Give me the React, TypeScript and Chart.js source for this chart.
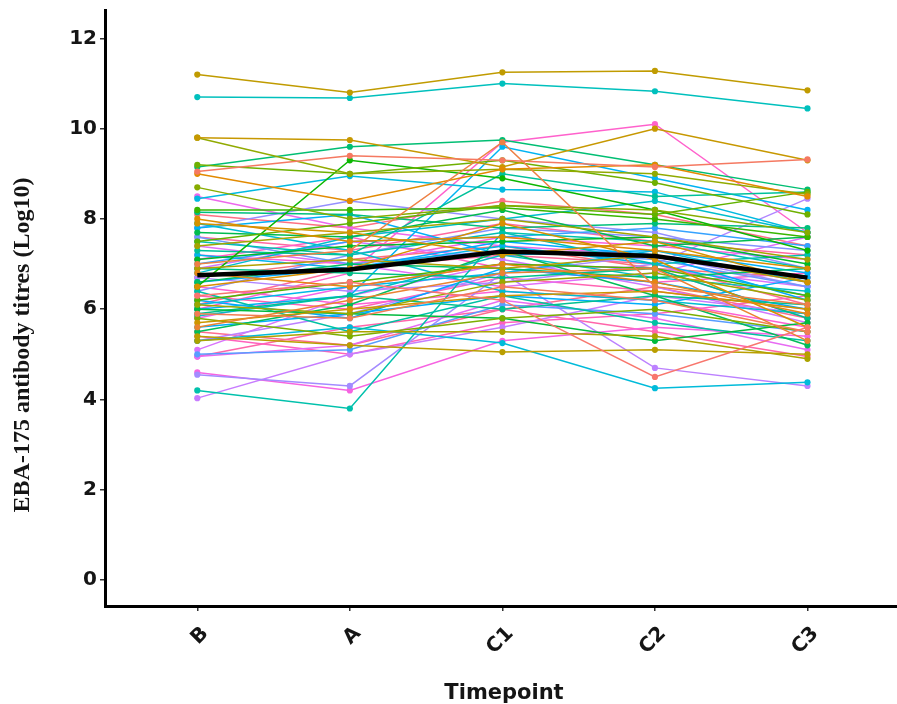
import React, { useEffect, useRef } from "react";
import { Chart, registerables } from "chart.js";

Chart.register(...registerables);

const timepoints = ["B", "A", "C1", "C2", "C3"];
const yTicks = [0, 2, 4, 6, 8, 10, 12];
const yTitle = "EBA-175 antibody titres (Log10)";
const xTitle = "Timepoint";

// one value per subject at each timepoint (log10 titres)
const valuesB = [
  6.3, 9.05, 5.9, 7.0, 5.6, 6.8, 9.0, 8.0, 6.5, 7.9,
  5.7, 9.8, 11.2, 5.4, 6.9, 5.3, 7.4, 6.1, 9.8, 8.7,
  5.8, 9.2, 7.5, 6.2, 8.2, 6.5, 7.1, 6.0, 7.7, 5.5,
  6.6, 9.15, 8.15, 6.9, 5.9, 7.3, 6.4, 4.2, 7.5, 10.7,
  5.85, 6.8, 7.9, 5.3, 8.45, 6.1, 7.2, 6.0, 7.8, 5.6,
  6.6, 6.2, 7.0, 5.0, 7.6, 6.4, 7.8, 4.55, 6.7, 5.3,
  4.03, 6.9, 5.1, 7.4, 4.95, 8.5, 5.8, 4.6, 7.2, 6.5,
  6.0, 7.1, 5.4, 6.3, 4.95, 7.6, 6.1, 5.5, 8.1, 6.7,
];
const valuesA = [
  6.6, 9.4, 5.8, 7.3, 6.2, 6.5, 8.4, 7.5, 6.9, 7.7,
  6.0, 9.75, 10.8, 5.2, 7.1, 5.5, 7.7, 5.9, 9.0, 8.0,
  5.4, 9.0, 7.9, 6.6, 8.2, 9.3, 7.4, 5.9, 7.6, 6.1,
  7.0, 9.6, 8.1, 6.8, 6.3, 7.2, 5.5, 3.8, 7.2, 10.68,
  6.3, 7.6, 7.3, 5.6, 8.95, 6.5, 6.9, 6.3, 8.1, 5.9,
  6.9, 5.8, 7.5, 5.1, 7.0, 7.2, 8.4, 4.3, 6.4, 5.9,
  5.0, 7.5, 6.3, 7.0, 5.2, 7.8, 6.5, 4.2, 7.0, 6.1,
  6.8, 7.6, 5.0, 6.0, 5.6, 7.3, 6.9, 5.2, 7.8, 7.1,
];
const valuesC1 = [
  6.2, 9.3, 6.5, 9.7, 6.8, 7.0, 9.1, 7.6, 7.9, 7.2,
  6.3, 9.15, 11.25, 5.05, 6.9, 5.5, 8.0, 6.6, 9.1, 8.3,
  5.8, 9.3, 8.3, 7.0, 8.25, 8.9, 7.5, 5.8, 8.2, 7.3,
  6.9, 9.75, 7.8, 6.7, 6.0, 9.0, 6.3, 7.7, 7.7, 11.0,
  7.2, 8.0, 6.4, 5.25, 8.65, 6.8, 7.4, 9.6, 7.2, 6.3,
  7.5, 6.9, 7.6, 6.1, 7.3, 7.8, 8.0, 6.8, 6.6, 6.8,
  5.6, 7.1, 7.0, 6.5, 6.2, 7.4, 7.0, 5.3, 7.6, 6.4,
  9.7, 6.9, 5.7, 6.7, 6.0, 7.9, 7.2, 6.0, 8.4, 7.4,
];
const valuesC2 = [
  4.5, 9.15, 6.2, 6.5, 6.9, 6.6, 9.2, 7.3, 7.1, 7.5,
  6.4, 10.0, 11.28, 5.1, 7.2, 5.4, 7.6, 6.8, 9.0, 8.2,
  6.0, 8.8, 8.1, 6.9, 8.0, 8.2, 7.6, 5.3, 7.4, 6.3,
  6.7, 9.2, 7.9, 6.9, 6.3, 8.5, 5.7, 7.5, 7.0, 10.83,
  6.7, 8.4, 6.2, 4.25, 8.6, 7.3, 7.0, 8.9, 7.3, 6.1,
  7.2, 6.6, 7.8, 5.9, 7.1, 7.6, 7.7, 7.2, 7.0, 4.7,
  6.3, 6.5, 6.9, 6.8, 5.8, 7.2, 6.9, 5.6, 7.4, 6.2,
  10.1, 6.6, 5.9, 6.4, 5.5, 7.5, 7.0, 6.5, 8.1, 6.9,
];
const valuesC3 = [
  5.6, 9.32, 5.5, 6.1, 5.3, 5.9, 8.5, 6.9, 5.6, 6.6,
  6.0, 9.3, 10.85, 5.0, 6.6, 4.9, 7.1, 6.2, 8.55, 7.7,
  5.5, 8.1, 8.6, 6.3, 7.6, 7.3, 7.0, 5.7, 7.6, 5.2,
  6.9, 8.65, 7.8, 5.8, 6.1, 8.6, 5.3, 6.9, 7.2, 10.45,
  6.4, 7.7, 5.9, 4.38, 7.7, 6.6, 6.3, 8.2, 6.8, 6.7,
  6.2, 6.0, 7.4, 5.5, 6.5, 7.3, 6.9, 6.5, 8.45, 4.3,
  5.9, 5.7, 6.5, 7.6, 5.1, 6.6, 5.8, 5.4, 7.1, 5.6,
  7.7, 6.8, 6.3, 6.0, 4.95, 7.2, 6.1, 5.8, 7.4, 6.7,
];
// mean trajectory (thick black line)
const meanTitre = [6.75, 6.88, 7.28, 7.18, 6.7];

function hcl(h: number, c: number, l: number): string {
  const hr = (h * Math.PI) / 180;
  const u = c * Math.cos(hr);
  const v = c * Math.sin(hr);
  const Xn = 95.047, Yn = 100, Zn = 108.883;
  const den = Xn + 15 * Yn + 3 * Zn;
  const un = (4 * Xn) / den, vn = (9 * Yn) / den;
  const Y = l > 8 ? Yn * Math.pow((l + 16) / 116, 3) : (Yn * l) / 903.3;
  const up = u / (13 * l) + un;
  const vp = v / (13 * l) + vn;
  const X = (Y * 9 * up) / (4 * vp);
  const Z = (Y * (12 - 3 * up - 20 * vp)) / (4 * vp);
  const x = X / 100, y = Y / 100, z = Z / 100;
  const r = 3.2404542 * x - 1.5371385 * y - 0.4985314 * z;
  const g = -0.969266 * x + 1.8760108 * y + 0.041556 * z;
  const b = 0.0556434 * x - 0.2040259 * y + 1.0572252 * z;
  const gam = (t: number) => {
    const s = t <= 0.0031308 ? 12.92 * t : 1.055 * Math.pow(t, 1 / 2.4) - 0.055;
    return Math.round(255 * Math.min(1, Math.max(0, s)));
  };
  return `rgb(${gam(r)},${gam(g)},${gam(b)})`;
}

const titlePlugin = {
  id: "titles",
  afterDraw(chart: any) {
    const ctx = chart.ctx;
    ctx.save();
    ctx.fillStyle = "#151515";
    ctx.font = 'bold 24px "Liberation Serif", "Times New Roman", serif';
    ctx.textAlign = "center";
    ctx.textBaseline = "middle";
    ctx.translate(23, 345);
    ctx.rotate(-Math.PI / 2);
    ctx.fillText(yTitle, 0, 0);
    ctx.restore();

    ctx.save();
    ctx.fillStyle = "#151515";
    ctx.font = 'bold 21px "DejaVu Sans", sans-serif';
    ctx.textAlign = "center";
    ctx.textBaseline = "alphabetic";
    ctx.fillText(xTitle, 504, 699);
    ctx.restore();
  },
};

export default function App() {
  const ref = useRef<HTMLCanvasElement>(null);

  useEffect(() => {
    if (!ref.current) return;
    const series = [valuesB, valuesA, valuesC1, valuesC2, valuesC3];
    const n = valuesB.length;
    const datasets: any[] = [
      {
        label: "Mean",
        data: meanTitre.map((y, i) => ({ x: i, y })),
        borderColor: "#000000",
        backgroundColor: "#000000",
        borderWidth: 4.5,
        pointRadius: 0,
        order: 0,
      },
    ];
    for (let s = 0; s < n; s++) {
      const col = hcl(15 + (360 * s) / n, 100, 65);
      datasets.push({
        label: "S" + (s + 1),
        data: series.map((arr, i) => ({ x: i, y: arr[s] })),
        borderColor: col,
        backgroundColor: col,
        borderWidth: 1.5,
        pointRadius: 3.1,
        pointBorderWidth: 0,
        order: 1,
      });
    }

    const tickFont = { family: '"DejaVu Sans", sans-serif', size: 20, weight: "bold" as const };
    const chart = new Chart(ref.current, {
      type: "line",
      data: { datasets },
      plugins: [titlePlugin],
      options: {
        animation: false,
        responsive: false,
        layout: { padding: { top: 10, left: 0, right: 0, bottom: 0 } },
        plugins: { legend: { display: false }, tooltip: { enabled: false } },
        scales: {
          x: {
            type: "linear",
            min: -0.605,
            max: 4.6,
            afterBuildTicks: (s: any) => {
              s.ticks = timepoints.map((_, i) => ({ value: i }));
            },
            afterFit: (s: any) => {
              s.height = 98;
              s.paddingLeft = 0;
              s.paddingRight = 0;
            },
            ticks: {
              autoSkip: false,
              minRotation: 45,
              maxRotation: 45,
              padding: 11,
              labelOffset: 8,
              color: "#151515",
              font: tickFont,
              callback: (v: any) => timepoints[Number(v)] ?? "",
            },
            grid: {
              display: true,
              drawOnChartArea: false,
              drawTicks: true,
              tickLength: 5,
              lineWidth: 1.5,
              color: "#333333",
            },
            border: { display: true, color: "#000000", width: 3 },
          },
          y: {
            type: "linear",
            min: -0.576,
            max: 12.63,
            afterBuildTicks: (s: any) => {
              s.ticks = yTicks.map((v) => ({ value: v }));
            },
            afterFit: (s: any) => {
              s.width = 105;
              s.paddingTop = 0;
              s.paddingBottom = 0;
            },
            ticks: {
              padding: 3,
              color: "#151515",
              font: tickFont,
            },
            grid: {
              display: true,
              drawOnChartArea: false,
              drawTicks: true,
              tickLength: 5,
              lineWidth: 1.5,
              color: "#333333",
            },
            border: { display: true, color: "#000000", width: 3 },
          },
        },
      },
    });
    return () => chart.destroy();
  }, []);

  return (
    <div
      style={{
        position: "fixed",
        left: 0,
        top: 0,
        width: 897,
        height: 704,
        overflow: "hidden",
        background: "#ffffff",
      }}
    >
      <canvas ref={ref} width={903} height={704} style={{ display: "block" }} />
    </div>
  );
}
